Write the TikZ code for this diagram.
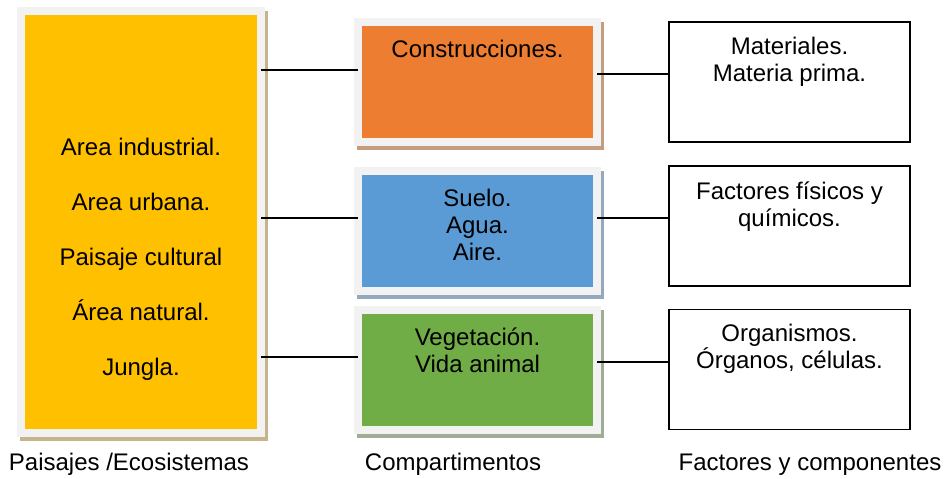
\documentclass[tikz,border=0pt]{standalone}
\usepackage{fontspec}
\setmainfont{Liberation Sans}
\usetikzlibrary{%
  positioning,
  shadows,
}

\definecolor{paisaje}{HTML}{FFC000}
\definecolor{construccion}{HTML}{ED7D31}
\definecolor{medio}{HTML}{5B9BD5}
\definecolor{vida}{HTML}{70AD47}
\definecolor{marco}{HTML}{F2F2F2}
\definecolor{paisajesombra}{HTML}{C6B48C}
\definecolor{construccionsombra}{HTML}{C49C80}
\definecolor{mediosombra}{HTML}{96A8BE}
\definecolor{vidasombra}{HTML}{A0AC96}

\begin{document}
\begin{tikzpicture}[
    x=0.5pt, y=-0.5pt,
    every text node part/.style={align=center},
    font=\fontsize{12}{13.5}\selectfont,
    area/.style={
      % The shape:
      rectangle,
      outer sep=0pt,
      % The size:
      minimum width=119.5pt,
      minimum height=60pt,
      % The border:
      line width=4pt,
      draw=marco,
    },
    % a flat shadow, right and down
    areashadow/.style={
      drop shadow={shadow xshift=1.5pt, shadow yshift=-2pt,
        opacity=1, fill=#1, draw=#1, line width=4pt},
    },
    factor/.style={
      rectangle,
      outer sep=0pt,
      minimum width=120.5pt,
      minimum height=60pt,
      draw=black,
      line width=0.65pt,
    },
    caption/.style={inner sep=0pt},
    link/.style={line width=0.65pt},
  ]

    \useasboundingbox (0,0) rectangle (950,478);

    % Paisajes
    \node[area, areashadow=paisajesombra, fill=paisaje,
          minimum width=120pt, minimum height=211pt] (paisajes) at (141,222) {};
    \node[caption, below=63.4pt of paisajes.north] (paisajes-text)
          {Area industrial.\\[14pt] Area urbana.\\[14pt] Paisaje cultural\\[14pt]
           Área natural.\\[14pt] Jungla.};

    % Compartimentos
    \node[area, areashadow=construccionsombra, fill=construccion] (construcciones) at (477.5,81.5) {};
    \node[area, areashadow=mediosombra, fill=medio] (medio) at (477.5,230.5) {};
    \node[area, areashadow=vidasombra, fill=vida] (vida) at (477.5,370) {};
    \node[caption, below=9.3pt of construcciones.north] (construcciones-text) {Construcciones.};
    \node[caption, below=9.2pt of medio.north] (medio-text) {Suelo.\\ Agua.\\ Aire.};
    \node[caption, below=8.7pt of vida.north] (vida-text) {Vegetación.\\ Vida animal};

    % Factores
    \node[factor] (materiales) at (789.5,82) {};
    \node[factor] (fisicos) at (789.5,226) {};
    \node[factor] (organismos) at (789.5,369.5) {};
    \node[caption, below=7.4pt of materiales.north] (materiales-text) {Materiales.\\ Materia prima.};
    \node[caption, below=7.8pt of fisicos.north] (fisicos-text) {Factores físicos y\\ químicos.};
    \node[caption, below=7.2pt of organismos.north] (organismos-text) {Organismos.\\ Órganos, células.};

    \draw[link] (paisajes.east |- 0,70) -- (construcciones.west |- 0,70);
    \draw[link] (paisajes.east |- 0,218) -- (medio.west |- 0,218);
    \draw[link] (paisajes.east |- 0,357) -- (vida.west |- 0,357);
    \draw[link] (construcciones.east |- 0,74) -- (materiales.west |- 0,74);
    \draw[link] (medio.east |- 0,218) -- (fisicos.west |- 0,218);
    \draw[link] (vida.east |- 0,362) -- (organismos.west |- 0,362);

    \node[anchor=base] (paisajes-label) at (129,470) {Paisajes /Ecosistemas};
    \node[anchor=base] (compartimentos-label) at (453,470) {Compartimentos};
    \node[anchor=base] (factores-label) at (810,470) {Factores y componentes};
  \end{tikzpicture}
\end{document}
